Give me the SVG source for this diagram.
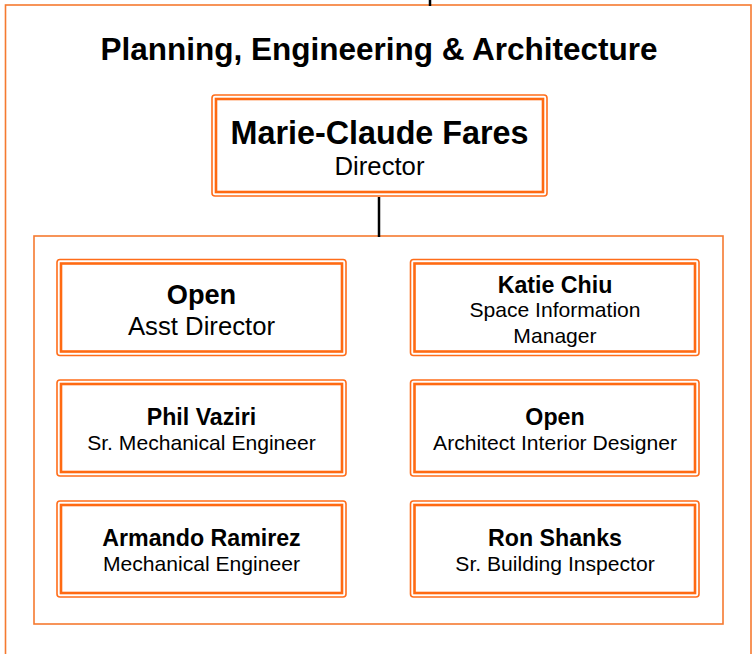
<svg xmlns="http://www.w3.org/2000/svg" width="755" height="654" viewBox="0 0 755 654">
<style>
.frame{fill:none;stroke:#F57A30;stroke-width:1.6}
.bo{fill:#fff;stroke:#FF6D1A;stroke-width:1.6}
.bi{fill:none;stroke:#FF6A12;stroke-width:2.6}
.conn{stroke:#000;stroke-width:2.5;fill:none}
text{font-family:"Liberation Sans",Arial,Helvetica,sans-serif;fill:#000;text-anchor:middle}
.t{font-weight:bold;font-size:31.5px}
.n{font-weight:bold;font-size:23.2px}
.r{font-size:21.1px}
</style>
<rect class="frame" x="5.5" y="5" width="745.5" height="700"/>
<rect class="frame" x="34" y="236" width="689" height="388"/>
<g id="connectors">
<line class="conn" x1="430" y1="0" x2="430" y2="6"/>
<line class="conn" x1="379" y1="197" x2="379" y2="237"/>
</g>
<text class="t" x="379" y="60">Planning, Engineering &amp; Architecture</text>
<g id="director">
<rect class="bo" x="212" y="95" width="335" height="101" rx="3"/>
<rect class="bi" x="216" y="99" width="327" height="93"/>
<text x="379.5" y="144" style="font-weight:bold;font-size:32.3px">Marie-Claude Fares</text>
<text x="379.5" y="175" style="font-size:25.7px">Director</text>
</g>
<g id="asst-director">
<rect class="bo" x="57" y="259.5" width="289" height="96" rx="3"/>
<rect class="bi" x="61" y="263.5" width="281" height="88"/>
<text x="201.5" y="304" style="font-weight:bold;font-size:27.2px">Open</text>
<text x="201.5" y="335" style="font-size:25.7px">Asst Director</text>
</g>
<g id="katie-chiu">
<rect class="bo" x="410.5" y="259.5" width="288.5" height="96" rx="3"/>
<rect class="bi" x="414.5" y="263.5" width="280.5" height="88"/>
<text class="n" x="555" y="293">Katie Chiu</text>
<text class="r" x="555" y="317">Space Information</text>
<text class="r" x="555" y="343">Manager</text>
</g>
<g id="phil-vaziri">
<rect class="bo" x="57" y="380" width="289" height="96" rx="3"/>
<rect class="bi" x="61" y="384" width="281" height="88"/>
<text class="n" x="201.5" y="425">Phil Vaziri</text>
<text class="r" x="201.5" y="450">Sr. Mechanical Engineer</text>
</g>
<g id="architect">
<rect class="bo" x="410.5" y="380" width="288.5" height="96" rx="3"/>
<rect class="bi" x="414.5" y="384" width="280.5" height="88"/>
<text class="n" x="555" y="425">Open</text>
<text class="r" x="555" y="450">Architect Interior Designer</text>
</g>
<g id="armando-ramirez">
<rect class="bo" x="57" y="501" width="289" height="96" rx="3"/>
<rect class="bi" x="61" y="505" width="281" height="88"/>
<text class="n" x="201.5" y="546">Armando Ramirez</text>
<text class="r" x="201.5" y="571">Mechanical Engineer</text>
</g>
<g id="ron-shanks">
<rect class="bo" x="410.5" y="501" width="288.5" height="96" rx="3"/>
<rect class="bi" x="414.5" y="505" width="280.5" height="88"/>
<text class="n" x="555" y="546">Ron Shanks</text>
<text class="r" x="555" y="571">Sr. Building Inspector</text>
</g>
</svg>
